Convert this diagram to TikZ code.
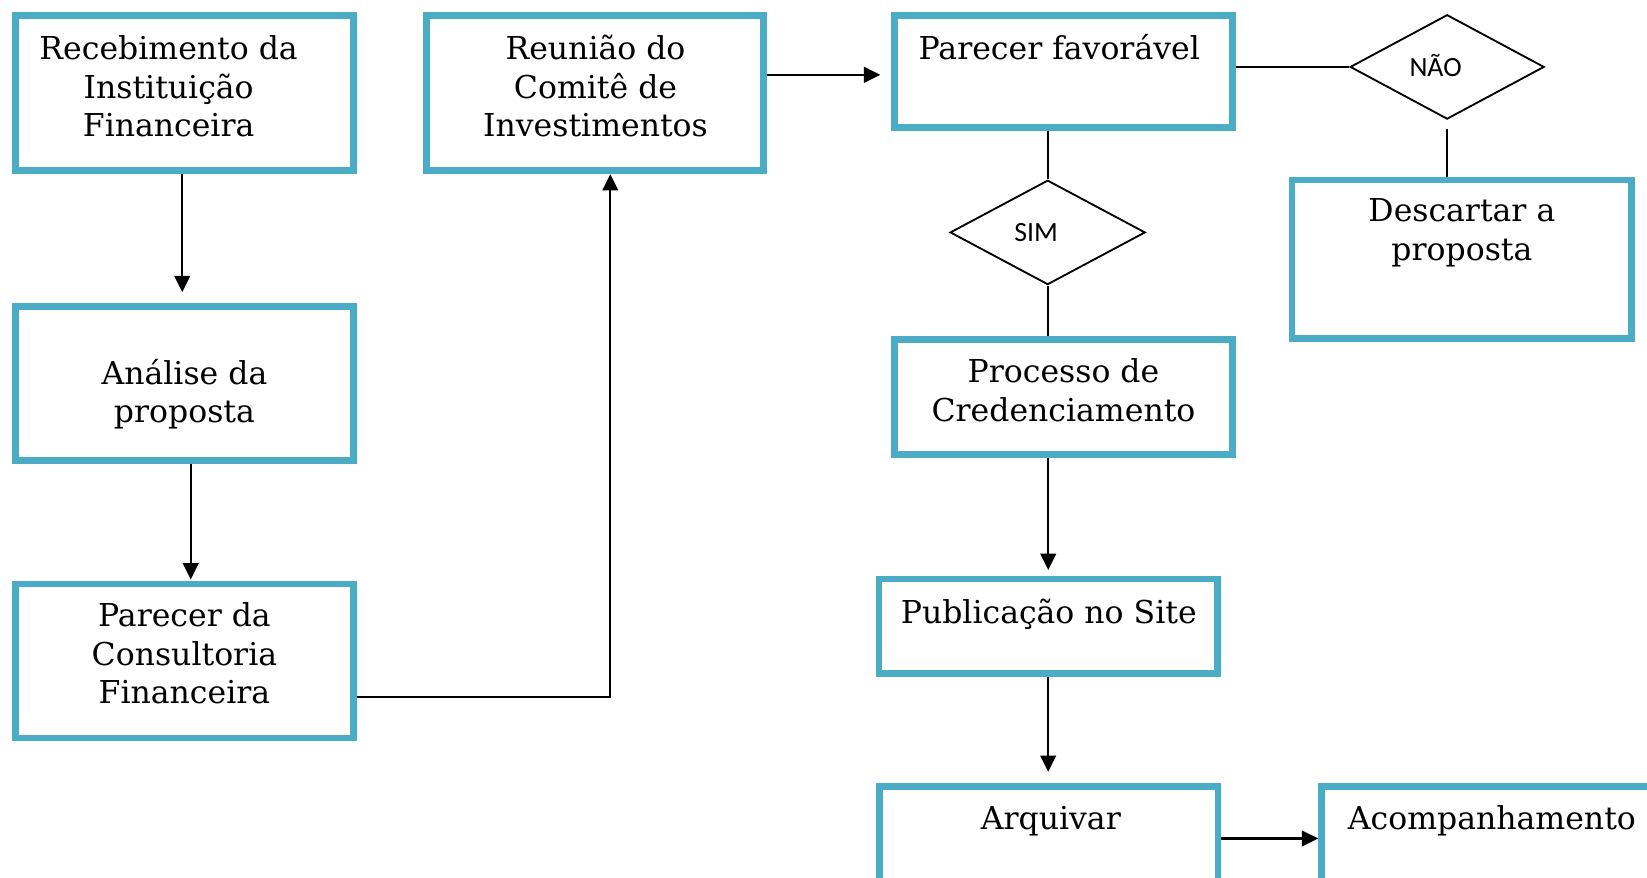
\documentclass[tikz,border=0pt]{standalone}
\usepackage{fontspec}
\setmainfont{DejaVu Serif}
\newfontfamily\sansf{Carlito}
\usetikzlibrary{shapes.geometric,arrows.meta}
\definecolor{boxblue}{RGB}{75,172,198}
\begin{document}
\begin{tikzpicture}[x=0.01cm,y=-0.01cm,
  box/.style={draw=boxblue,line width=1.8pt,inner sep=0pt,fill=white},
  dia/.style={draw=black,line width=0.5pt,shape=diamond,inner sep=0pt},
  txt/.style={inner sep=0pt,align=center,font=\fontsize{8.5}{10.4}\selectfont},
  stxt/.style={inner sep=0pt,font=\sansf\fontsize{7.5}{9}\selectfont},
  arr/.style={line width=0.6pt,-{Triangle[length=4.4pt,width=4.2pt]}},
  ln/.style={line width=0.6pt}]
\useasboundingbox (0,0) rectangle (1562.6,833);
\clip (0,0) rectangle (1562.6,833);
% boxes
\node[box,minimum width=3.20cm,minimum height=1.47cm] (b1) at (175,88.5) {};
\node[box,minimum width=3.19cm,minimum height=1.47cm] (b2) at (564.5,88.5) {};
\node[box,minimum width=3.20cm,minimum height=1.06cm] (b3) at (1009,68) {};
\node[box,minimum width=3.22cm,minimum height=1.505cm] (desc) at (1387,246) {};
\node[box,minimum width=3.20cm,minimum height=1.46cm] (b4) at (175,364) {};
\node[box,minimum width=3.20cm,minimum height=1.46cm] (b6) at (175,627) {};
\node[box,minimum width=3.20cm,minimum height=1.09cm] (proc) at (1009,376.5) {};
\node[box,minimum width=3.21cm,minimum height=0.895cm] (pub) at (994.5,594) {};
\node[box,minimum width=3.21cm,minimum height=0.99cm] (arq) at (995,795.5) {};
\node[box,minimum width=3.26cm,minimum height=0.99cm] (acomp) at (1417,795.5) {};
% diamonds
\node[dia,minimum width=1.84cm,minimum height=0.99cm] (nao) at (1373,63.5) {};
\node[dia,minimum width=1.85cm,minimum height=0.99cm] (sim) at (994,220.5) {};
% texts
\node[txt] (t1) at (160,82) {Recebimento da\\Instituição\\Financeira};
\node[txt] (t2) at (565,82) {Reunião do\\Comitê de\\Investimentos};
\node[txt] (t3) at (1005,45) {Parecer favorável};
\node[txt] (tdesc) at (1387,221) {Descartar a\\proposta};
\node[txt] (t4) at (175,374) {Análise da\\proposta};
\node[txt] (t6) at (175,620) {Parecer da\\Consultoria\\Financeira};
\node[txt] (tproc) at (1009,370) {Processo de\\Credenciamento};
\node[txt] (tpub) at (995,583) {Publicação no Site};
\node[txt] (tarq) at (997,779) {Arquivar};
\node[txt] (tacomp) at (1415.5,779) {Acompanhamento};
\node[stxt] (tnao) at (1362,62) {NÃO};
\node[stxt] (tsim) at (983,221) {SIM};
% connectors
\draw[arr,shorten >=3pt] ([xshift=-0.6pt]b1.south) -- ([xshift=-0.6pt]b4.north);
\draw[arr,shorten >=0.3pt] ([xshift=1.7pt]b4.south) -- ([xshift=1.7pt]b6.north);
\coordinate (c1) at (579,661);
\draw[arr] (b6.east |- c1) -- (c1) -- (b2.south -| c1);
\coordinate (c2) at (0,71);
\draw[arr,shorten >=3pt] (b2.east |- c2) -- (b3.west |- c2);
\draw[ln] (b3.east |- nao.west) -- (nao.west);
\draw[ln,shorten <=2.5pt] (nao.south) -- (nao.south |- desc.north);
\draw[ln] (sim.north |- b3.south) -- (sim.north);
\draw[ln] (sim.south) -- (sim.south |- proc.north);
\draw[arr,shorten >=1.5pt] (pub.north |- proc.south) -- (pub.north);
\draw[arr,shorten >=3pt] (pub.south) -- (pub.south |- arq.north);
\draw[arr] (arq.east) -- (acomp.west);
\end{tikzpicture}
\end{document}
